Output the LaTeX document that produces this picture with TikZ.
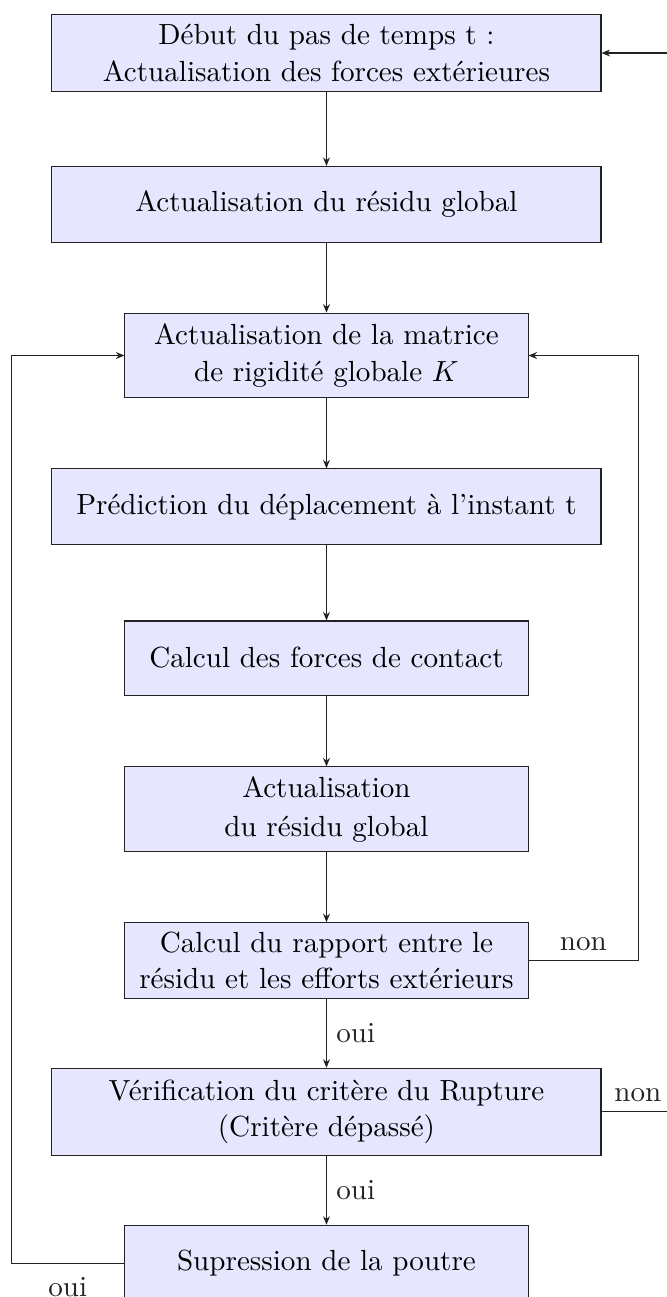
\documentclass[11pt,tikz,border=0pt]{standalone}
\usetikzlibrary{arrows.meta, calc}
\definecolor{mLavender}{HTML}{E6E6FF}
\definecolor{mLine}{HTML}{222222}

\begin{document}
\begin{tikzpicture}[
  every node/.style={inner sep=2pt},
  stepbox/.style={draw=mLine, fill=mLavender, align=center, minimum height=1cm},
  wide/.style={stepbox, minimum width=7.26cm},
  narrow/.style={stepbox, minimum width=5.33cm},
  flow/.style={mLine, -{Stealth[length=3.2pt, width=2.6pt]}},
  lbl/.style={inner sep=3.5pt},
]
  % Page frame
  \useasboundingbox (-4.317,0.701) rectangle (4.502,-16.449);

  % Loop columns
  \coordinate (leftLoop) at (-4.17,0);
  \coordinate (rightLoop) at (4.12,0);
  \coordinate (rightEdge) at (4.6,0);

  % Steps
  \node[wide, minimum height=1.02cm] (debut) at (0,0)
    {D\'ebut du pas de temps t :\\ Actualisation des forces ext\'erieures};
  \node[wide] (residu) at (0,-2) {Actualisation du r\'esidu global};
  \node[narrow, minimum height=1.12cm] (matrice) at (0,-4)
    {Actualisation de la matrice\\ de rigidit\'e globale $K$};
  \node[wide] (prediction) at (0,-6) {Pr\'ediction du d\'eplacement \`a l'instant t};
  \node[narrow, minimum height=0.98cm] (contact) at (0,-8) {Calcul des forces de contact};
  \node[narrow, minimum height=1.12cm] (residuBis) at (0,-10)
    {Actualisation\\[1pt] du r\'esidu global};
  \node[narrow] (rapport) at (0,-12)
    {Calcul du rapport entre le\\ r\'esidu et les efforts ext\'erieurs};
  \node[wide, minimum height=1.15cm] (verif) at (0,-14)
    {V\'erification du crit\`ere du Rupture\\ (Crit\`ere d\'epass\'e)};
  \node[narrow] (suppr) at (0,-16) {Supression de la poutre};

  % Main flow
  \foreach \a/\b in {debut/residu, residu/matrice, matrice/prediction,
                     prediction/contact, contact/residuBis, residuBis/rapport} {
    \draw[flow] (\a) -- (\b);
  }
  \draw[flow] (rapport) -- node[right, lbl] {oui} (verif);
  \draw[flow] (verif) -- node[right, lbl] {oui} (suppr);

  % Loops
  \draw[flow] (rapport.east) -- node[above, lbl] {non} (rapport.east -| rightLoop)
    |- (matrice.east);
  \draw[flow] (verif.east) -- node[above, lbl] {non} (verif.east -| rightEdge)
    |- (debut.east);
  \draw[flow] (suppr.west) -- node[below, lbl, inner sep=5pt] {oui} (suppr.west -| leftLoop)
    |- (matrice.west);
\end{tikzpicture}
\end{document}
